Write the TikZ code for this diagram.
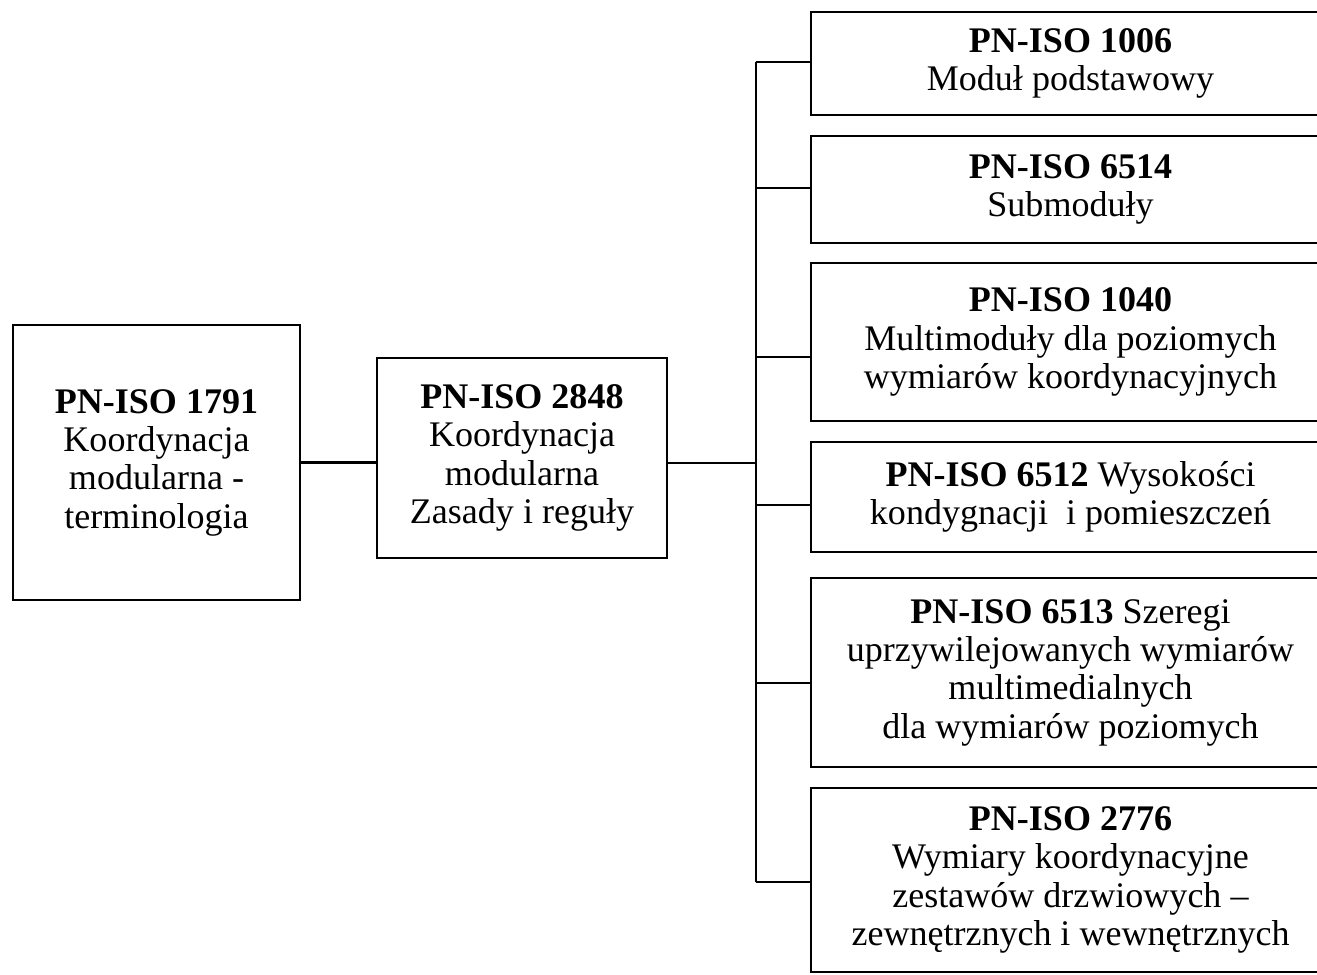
\documentclass[tikz,border=0pt]{standalone}
\usepackage{fontspec}
\setmainfont{Liberation Serif}
\usetikzlibrary{positioning,calc}

\begin{document}
\begin{tikzpicture}[
  x=0.02cm, y=-0.02cm,
  std/.style={draw, rectangle, line width=1.5pt, inner sep=0pt, align=center,
    font=\fontsize{20.5}{21.8}\selectfont},
  sub/.style={std, minimum width=10.38cm},
  line/.style={draw, line width=1.5pt}
]
\useasboundingbox (0,0) rectangle (1317,974);
\clip (0,0) rectangle (1317,974);

% --- main chain ---
\node[std, minimum width=5.74cm, minimum height=5.5cm] (term) at (156.5,462.5)
  {\textbf{PN-ISO 1791}\\Koordynacja\\modularna -\\terminologia};
\node[std, minimum width=5.8cm, minimum height=4cm] (rules) at (522,458)
  {\textbf{PN-ISO 2848}\\Koordynacja\\modularna\\Zasady i reguły};
\draw[line] (term) -- (term -| rules.west);

% --- detailed standards ---
\node[sub, minimum height=2.06cm] (iso1006) at (1070.5,63.5)
  {\textbf{PN-ISO 1006}\\Moduł podstawowy};
\node[sub, minimum height=2.14cm] (iso6514) at (1070.5,189.5)
  {\textbf{PN-ISO 6514}\\Submoduły};
\node[sub, minimum height=3.16cm] (iso1040) at (1070.5,342)
  {\textbf{PN-ISO 1040}\\Multimoduły dla poziomych\\wymiarów koordynacyjnych};
\node[sub, minimum height=2.2cm] (iso6512) at (1070.5,497)
  {\textbf{PN-ISO 6512} Wysokości\\kondygnacji\ \ i pomieszczeń};
\node[sub, minimum height=3.78cm] (iso6513) at (1070.5,672.5)
  {\textbf{PN-ISO 6513} Szeregi\\uprzywilejowanych wymiarów\\multimedialnych\\dla wymiarów poziomych};
\node[sub, minimum height=3.68cm] (iso2776) at (1070.5,880)
  {\textbf{PN-ISO 2776}\\Wymiary koordynacyjne\\zestawów drzwiowych –\\zewnętrznych i wewnętrznych};

% --- bus ---
\coordinate (bus) at (756,463);
\coordinate (j1) at (756,62);
\coordinate (j2) at (756,188);
\coordinate (j3) at (756,357);
\coordinate (j4) at (756,505);
\coordinate (j5) at (756,683);
\coordinate (j6) at (756,882);
\draw[line] (rules.east |- bus) -- (bus);
\draw[line] (j1) -- (j6);
\draw[line] (j1) -- (j1 -| iso1006.west);
\draw[line] (j2) -- (j2 -| iso6514.west);
\draw[line] (j3) -- (j3 -| iso1040.west);
\draw[line] (j4) -- (j4 -| iso6512.west);
\draw[line] (j5) -- (j5 -| iso6513.west);
\draw[line] (j6) -- (j6 -| iso2776.west);

\end{tikzpicture}
\end{document}
